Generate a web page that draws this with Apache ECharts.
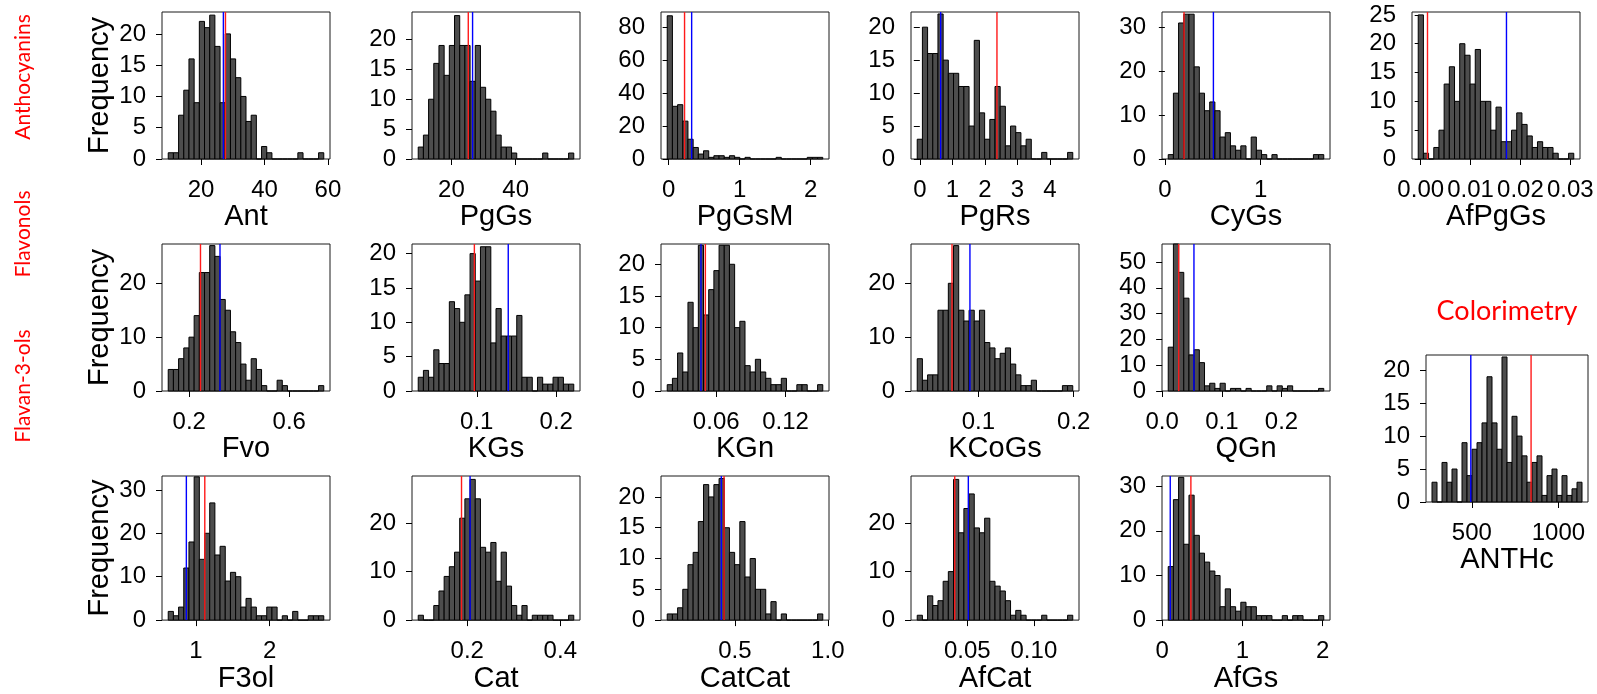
<!DOCTYPE html>
<html><head><meta charset="utf-8">
<script src="https://cdn.jsdelivr.net/npm/echarts@6/dist/echarts.min.js"></script>
<style>html,body{margin:0;padding:0;background:#fff}#c{width:1597px;height:694px}</style>
</head><body><div id="c"></div>
<script>
// ---- data (30 bins spanning each variable's range) ----
const antCounts = [1,1,7,11,16,9,22,21,23,18,9,20,16,13,10,6,7,0,2,1,0,0,0,0,0,1,0,0,0,1];
const antRange = [9.65, 58.7];
const antMeans = [27.7, 27.04]; // red, blue
const antXTicks = [20, 40, 60];
const antXLabels = ['20', '40', '60'];
const antYTicks = [0, 5, 10, 15, 20];
const antYMax = 23.5;

const pgGsCounts = [2,4,10,16,19,14,19,24,19,19,13,19,12,10,8,4,2,2,1,0,0,0,0,0,1,0,0,0,0,1];
const pgGsRange = [9.68, 58.1];
const pgGsMeans = [25.26, 26.6];
const pgGsXTicks = [20, 40];
const pgGsXLabels = ['20', '40'];
const pgGsYTicks = [0, 5, 10, 15, 20];
const pgGsYMax = 24.6;

const pgGsMCounts = [87,32,33,23,12,7,3,5,1,2,2,1,2,1,0,1,0,0,0,0,0,1,0,0,0,0,0,1,1,1];
const pgGsMRange = [-0.02, 2.17];
const pgGsMMeans = [0.224, 0.324];
const pgGsMXTicks = [0, 1, 2];
const pgGsMXLabels = ['0', '1', '2'];
const pgGsMYTicks = [0, 20, 40, 60, 80];
const pgGsMYMax = 89.3;

const pgRsCounts = [3,20,16,16,22,15,13,13,11,11,5,18,7,3,6,11,8,2,5,4,2,3,0,0,1,0,0,0,0,1];
const pgRsRange = [-0.08, 4.70];
const pgRsMeans = [2.37, 0.64];
const pgRsXTicks = [0, 1, 2, 3, 4];
const pgRsXLabels = ['0', '1', '2', '3', '4'];
const pgRsYTicks = [0, 5, 10, 15, 20];
const pgRsYMax = 22.3;

const cyGsCounts = [1,15,31,33,33,21,15,11,13,11,5,6,3,2,3,0,5,2,1,0,1,0,0,0,0,0,0,0,1,1];
const cyGsRange = [0.035, 1.66];
const cyGsMeans = [0.2, 0.507];
const cyGsXTicks = [0, 1];
const cyGsXLabels = ['0', '1'];
const cyGsYTicks = [0, 10, 20, 30];
const cyGsYMax = 33.5;

const afPgGsCounts = [25,1,0,2,5,13,16,10,20,18,13,19,10,10,5,9,3,3,5,8,6,4,2,3,2,2,1,0,0,1];
const afPgGsRange = [-0.0005, 0.0307];
const afPgGsMeans = [0.00136, 0.0172];
const afPgGsXTicks = [0, 0.01, 0.02, 0.03];
const afPgGsXLabels = ['0.00', '0.01', '0.02', '0.03'];
const afPgGsYTicks = [0, 5, 10, 15, 20, 25];
const afPgGsYMax = 25.5;

const fvoCounts = [4,4,6,8,10,14,22,22,27,25,17,15,11,9,5,2,6,4,1,0,0,2,1,0,0,0,0,0,0,1];
const fvoRange = [0.116, 0.738];
const fvoMeans = [0.245, 0.323];
const fvoXTicks = [0.2, 0.6];
const fvoXLabels = ['0.2', '0.6'];
const fvoYTicks = [0, 10, 20];
const fvoYMax = 27.3;

const kGsCounts = [2,3,2,6,4,4,13,12,10,14,20,16,21,21,7,12,8,8,8,11,2,2,0,2,1,1,2,2,1,1];
const kGsRange = [0.0264, 0.222];
const kGsMeans = [0.097, 0.1396];
const kGsXTicks = [0.1, 0.2];
const kGsXLabels = ['0.1', '0.2'];
const kGsYTicks = [0, 5, 10, 15, 20];
const kGsYMax = 21.4;

const kGnCounts = [1,2,6,3,14,10,23,12,16,19,23,23,20,10,11,4,3,5,3,2,1,1,2,0,0,1,1,0,0,1];
const kGnRange = [0.0176, 0.1522];
const kGnMeans = [0.0506, 0.0468];
const kGnXTicks = [0.06, 0.12];
const kGnXLabels = ['0.06', '0.12'];
const kGnYTicks = [0, 5, 10, 15, 20];
const kGnYMax = 23.2;

const kCoGsCounts = [6,2,3,3,15,15,20,27,15,13,15,13,15,9,8,6,7,8,5,3,1,1,2,0,0,0,0,0,1,1];
const kCoGsRange = [0.0358, 0.199];
const kCoGsMeans = [0.0723, 0.0911];
const kCoGsXTicks = [0.1, 0.2];
const kCoGsXLabels = ['0.1', '0.2'];
const kCoGsYTicks = [0, 10, 20];
const kCoGsYMax = 27.3;

const qGnCounts = [17,57,46,36,14,16,11,2,3,1,3,0,1,1,0,1,0,0,0,2,0,2,1,2,0,0,0,0,0,1];
const qGnRange = [0.0102, 0.2708];
const qGnMeans = [0.0278, 0.0533];
const qGnXTicks = [0, 0.1, 0.2];
const qGnXLabels = ['0.0', '0.1', '0.2'];
const qGnYTicks = [0, 10, 20, 30, 40, 50];
const qGnYMax = 57;

const anthcCounts = [3,0,6,3,5,0,9,4,8,9,12,19,12,8,22,6,13,10,7,3,6,7,1,4,5,1,4,1,2,3];
const anthcRange = [270, 1136];
const anthcMeans = [842, 494];
const anthcXTicks = [500, 1000];
const anthcXLabels = ['500', '1000'];
const anthcYTicks = [0, 5, 10, 15, 20];
const anthcYMax = 22.3;

const f3olCounts = [2,1,3,12,18,33,14,20,27,15,17,9,11,10,3,5,3,1,1,3,3,0,1,0,2,0,0,1,1,1];
const f3olRange = [0.624, 2.734];
const f3olMeans = [1.12, 0.87];
const f3olXTicks = [1, 2];
const f3olXLabels = ['1', '2'];
const f3olYTicks = [0, 10, 20, 30];
const f3olYMax = 33.2;

const catCounts = [1,0,0,3,6,9,11,14,21,25,29,25,15,14,16,8,14,7,3,1,3,0,1,1,1,1,0,0,0,1];
const catRange = [0.0945, 0.429];
const catMeans = [0.1876, 0.206];
const catXTicks = [0.2, 0.4];
const catXLabels = ['0.2', '0.4'];
const catYTicks = [0, 10, 20];
const catYMax = 29.7;

const catCatCounts = [1,1,2,5,9,11,16,22,20,22,23,15,11,9,16,7,10,5,5,1,3,0,1,0,0,0,0,0,0,1];
const catCatRange = [0.136, 0.973];
const catCatMeans = [0.442, 0.427];
const catCatXTicks = [0.5, 1.0];
const catCatXLabels = ['0.5', '1.0'];
const catCatYTicks = [0, 5, 10, 15, 20];
const catCatYMax = 23.4;

const afCatCounts = [1,0,5,3,4,8,10,29,18,23,26,19,18,21,8,7,6,4,1,2,1,0,0,0,1,0,0,0,0,1];
const afCatRange = [0.01244, 0.1292];
const afCatMeans = [0.0406, 0.0508];
const afCatXTicks = [0.05, 0.10];
const afCatXLabels = ['0.05', '0.10'];
const afCatYTicks = [0, 10, 20];
const afCatYMax = 29.7;

const afGsCounts = [12,27,32,17,28,19,15,13,11,10,3,7,3,2,4,3,3,1,1,1,0,0,1,0,1,1,0,0,0,1];
const afGsRange = [0.0758, 2.013];
const afGsMeans = [0.358, 0.101];
const afGsXTicks = [0, 1, 2];
const afGsXLabels = ['0', '1', '2'];
const afGsYTicks = [0, 10, 20, 30];
const afGsYMax = 32.3;

const groupLabels = ['Anthocyanins', 'Flavonols', 'Flavan-3-ols'];
const colorimetryLabel = 'Colorimetry';

// ---- panel assembly ----
const panels = [
  ['Ant', antCounts, antRange, antMeans, antXTicks, antXLabels, antYTicks, antYMax],
  ['PgGs', pgGsCounts, pgGsRange, pgGsMeans, pgGsXTicks, pgGsXLabels, pgGsYTicks, pgGsYMax],
  ['PgGsM', pgGsMCounts, pgGsMRange, pgGsMMeans, pgGsMXTicks, pgGsMXLabels, pgGsMYTicks, pgGsMYMax],
  ['PgRs', pgRsCounts, pgRsRange, pgRsMeans, pgRsXTicks, pgRsXLabels, pgRsYTicks, pgRsYMax],
  ['CyGs', cyGsCounts, cyGsRange, cyGsMeans, cyGsXTicks, cyGsXLabels, cyGsYTicks, cyGsYMax],
  ['AfPgGs', afPgGsCounts, afPgGsRange, afPgGsMeans, afPgGsXTicks, afPgGsXLabels, afPgGsYTicks, afPgGsYMax],
  ['Fvo', fvoCounts, fvoRange, fvoMeans, fvoXTicks, fvoXLabels, fvoYTicks, fvoYMax],
  ['KGs', kGsCounts, kGsRange, kGsMeans, kGsXTicks, kGsXLabels, kGsYTicks, kGsYMax],
  ['KGn', kGnCounts, kGnRange, kGnMeans, kGnXTicks, kGnXLabels, kGnYTicks, kGnYMax],
  ['KCoGs', kCoGsCounts, kCoGsRange, kCoGsMeans, kCoGsXTicks, kCoGsXLabels, kCoGsYTicks, kCoGsYMax],
  ['QGn', qGnCounts, qGnRange, qGnMeans, qGnXTicks, qGnXLabels, qGnYTicks, qGnYMax],
  ['ANTHc', anthcCounts, anthcRange, anthcMeans, anthcXTicks, anthcXLabels, anthcYTicks, anthcYMax],
  ['F3ol', f3olCounts, f3olRange, f3olMeans, f3olXTicks, f3olXLabels, f3olYTicks, f3olYMax],
  ['Cat', catCounts, catRange, catMeans, catXTicks, catXLabels, catYTicks, catYMax],
  ['CatCat', catCatCounts, catCatRange, catCatMeans, catCatXTicks, catCatXLabels, catCatYTicks, catCatYMax],
  ['AfCat', afCatCounts, afCatRange, afCatMeans, afCatXTicks, afCatXLabels, afCatYTicks, afCatYMax],
  ['AfGs', afGsCounts, afGsRange, afGsMeans, afGsXTicks, afGsXLabels, afGsYTicks, afGsYMax]
];

// layout: [left, top, width, height, showFrequency]
const colLeft = [162, 412, 661, 911, 1162, 1412];
const rowTop = [12, 244, 476];
const boxes = [];
for (let c = 0; c < 6; c++) boxes.push([colLeft[c], rowTop[0], 168, 147, c === 0]);
for (let c = 0; c < 5; c++) boxes.push([colLeft[c], rowTop[1], 168, 147, c === 0]);
boxes.push([1426, 355, 162, 147, false]);
for (let c = 0; c < 5; c++) boxes.push([colLeft[c], rowTop[2], 168, 147, c === 0]);

const FONT = "'Liberation Sans', Arial, sans-serif";
const grids = [], xAxes = [], yAxes = [], series = [];

panels.forEach((p, i) => {
  const [name, counts, range, means, xTicks, xLabels, yTicks, yMax] = p;
  const [lo, hi] = range;
  const span = hi - lo;
  const w = span / counts.length;
  const b = boxes[i];
  grids.push({left: b[0], top: b[1], width: b[2], height: b[3], show: true,
    borderColor: '#1a1a1a', borderWidth: 1, backgroundColor: 'transparent', containLabel: false});
  xAxes.push({
    gridIndex: i, type: 'value', min: lo - 0.04 * span, max: hi + 0.04 * span,
    axisLine: {show: false},
    axisTick: {show: true, length: 6, customValues: xTicks, lineStyle: {color: '#000', width: 1}},
    axisLabel: {show: true, customValues: xTicks, fontSize: 24, color: '#000', fontFamily: FONT, margin: 19,
      formatter: v => { const k = xTicks.findIndex(t => Math.abs(t - v) < 1e-9 * Math.max(1, Math.abs(t)) + 1e-12); return k >= 0 ? xLabels[k] : ''; }},
    splitLine: {show: false},
    name: name, nameLocation: 'middle', nameGap: 37,
    nameTextStyle: {fontSize: 29, color: '#000', fontFamily: FONT}
  });
  yAxes.push({
    gridIndex: i, type: 'value', min: 0, max: yMax,
    axisLine: {show: false},
    axisTick: {show: true, length: 6, customValues: yTicks, lineStyle: {color: '#000', width: 1}},
    axisLabel: {show: true, customValues: yTicks, fontSize: 24, color: '#000', fontFamily: FONT, margin: 16},
    splitLine: {show: false},
    name: b[4] ? 'Frequency' : '', nameLocation: 'middle', nameGap: 48,
    nameTextStyle: {fontSize: 29, color: '#000', fontFamily: FONT}
  });
  series.push({
    type: 'custom', xAxisIndex: i, yAxisIndex: i, silent: true,
    data: counts.map((c, k) => [lo + k * w, lo + (k + 1) * w, c]),
    encode: {x: [0, 1], y: 2},
    renderItem: (params, api) => {
      const p0 = api.coord([api.value(0), 0]);
      const p1 = api.coord([api.value(1), api.value(2)]);
      return {type: 'rect', shape: {x: p0[0], y: p1[1], width: p1[0] - p0[0], height: p0[1] - p1[1]},
        style: {fill: '#4d4d4d', stroke: '#000', lineWidth: 1}};
    }
  });
  [['#ff1a1a', means[0]], ['#0000ff', means[1]]].forEach(([col, v]) => {
    series.push({type: 'line', xAxisIndex: i, yAxisIndex: i, silent: true, symbol: 'none',
      data: [[v, 0], [v, yMax]], lineStyle: {color: col, width: 1.4}, z: 5});
  });
});

const labelFont = "Lato, 'Open Sans', sans-serif";
const graphics = [
  {type: 'text', x: 23.5, y: 77, rotation: Math.PI / 2, style: {text: groupLabels[0], fill: '#ff0000', font: '21px ' + labelFont, align: 'center', verticalAlign: 'middle'}},
  {type: 'text', x: 23.5, y: 234, rotation: Math.PI / 2, style: {text: groupLabels[1], fill: '#ff0000', font: '21px ' + labelFont, align: 'center', verticalAlign: 'middle'}},
  {type: 'text', x: 23.5, y: 386, rotation: Math.PI / 2, style: {text: groupLabels[2], fill: '#ff0000', font: '21px ' + labelFont, align: 'center', verticalAlign: 'middle'}},
  {type: 'text', x: 1507, y: 311, style: {text: colorimetryLabel, fill: '#ff0000', font: '27px ' + labelFont, align: 'center', verticalAlign: 'middle'}}
];

const chart = echarts.init(document.getElementById('c'), null, {renderer: 'canvas'});
chart.setOption({
  animation: false,
  backgroundColor: '#fff',
  grid: grids, xAxis: xAxes, yAxis: yAxes, series: series,
  graphic: graphics
});
</script></body></html>
